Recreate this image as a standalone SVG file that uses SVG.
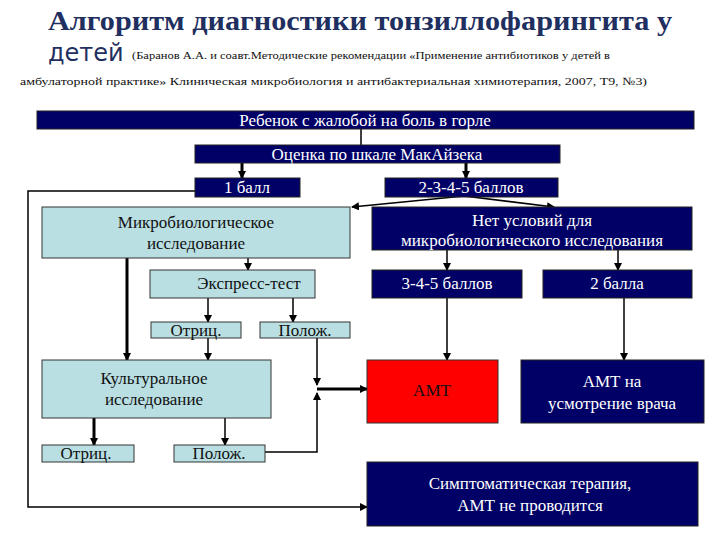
<svg xmlns="http://www.w3.org/2000/svg" width="720" height="540" viewBox="0 0 720 540" font-family="Liberation Serif, DejaVu Serif, serif">
<defs>
<style>
.d{fill:#000066;stroke:#222;stroke-width:1}
.l{fill:#b9dfe3;stroke:#333;stroke-width:1}
.r{fill:#ff0000;stroke:#333;stroke-width:1}
text{font-family:'Liberation Serif','DejaVu Serif',serif;font-size:17px;text-anchor:middle}
.w{fill:#fff}
.k{fill:#111}
.c{fill:none;stroke:#000;stroke-width:1.5}
.t{fill:none;stroke:#000;stroke-width:3}
</style>
<marker id="a" markerWidth="8" markerHeight="8" refX="7" refY="4" orient="auto" markerUnits="userSpaceOnUse"><path d="M0,0L8,4L0,8z" fill="#000"/></marker>
</defs>
<text x="48" y="30" textLength="624" lengthAdjust="spacingAndGlyphs" style="font-size:27px;font-weight:bold;text-anchor:start;fill:#1f2f5f">Алгоритм диагностики тонзиллофарингита у</text>
<text x="48" y="61" style="font-size:24px;font-family:'DejaVu Sans',sans-serif;text-anchor:start;fill:#1f2f5f">детей</text>
<text x="132" y="59" textLength="478" lengthAdjust="spacingAndGlyphs" style="font-size:11px;text-anchor:start" class="k">(Баранов А.А. и соавт.Методические рекомендации «Применение антибиотиков у детей в</text>
<text x="20" y="85" textLength="627" lengthAdjust="spacingAndGlyphs" style="font-size:11px;text-anchor:start" class="k">амбулаторной практике» Клиническая микробиология и антибактериальная химиотерапия, 2007, Т9, №3)</text>
<g id="connectors">
<line class="c" x1="361" y1="129" x2="361" y2="145"/>
<line class="t" x1="242" y1="163" x2="242" y2="178" marker-end="url(#a)"/>
<line class="t" x1="466" y1="163" x2="466" y2="178" marker-end="url(#a)"/>
<polyline class="c" points="195,191 28,191 28,507 367,507" marker-end="url(#a)"/>
<line class="c" x1="464" y1="196" x2="352" y2="207" marker-end="url(#a)"/>
<line class="c" x1="464" y1="196" x2="554" y2="207" marker-end="url(#a)"/>
<line class="c" x1="248" y1="258" x2="248" y2="270" marker-end="url(#a)"/>
<line class="c" x1="447" y1="250" x2="447" y2="270" marker-end="url(#a)"/>
<line class="c" x1="618" y1="250" x2="618" y2="270" marker-end="url(#a)"/>
<line class="c" x1="208" y1="298" x2="208" y2="322" marker-end="url(#a)"/>
<line class="c" x1="293" y1="298" x2="293" y2="322" marker-end="url(#a)"/>
<line class="t" x1="127" y1="258" x2="127" y2="360" marker-end="url(#a)"/>
<line class="c" x1="208" y1="338" x2="208" y2="360" marker-end="url(#a)"/>
<line class="c" x1="317" y1="338" x2="317" y2="385" marker-end="url(#a)"/>
<polyline class="c" points="265,452 317,452 317,393" marker-end="url(#a)"/>
<line class="t" x1="317" y1="389" x2="367" y2="389" marker-end="url(#a)"/>
<line class="c" x1="447" y1="298" x2="447" y2="360" marker-end="url(#a)"/>
<line class="c" x1="624" y1="298" x2="624" y2="360" marker-end="url(#a)"/>
<line class="t" x1="94" y1="418" x2="94" y2="445" marker-end="url(#a)"/>
<line class="c" x1="225" y1="418" x2="225" y2="445" marker-end="url(#a)"/>
</g>
<g id="n1"><rect class="d" x="37" y="111" width="657" height="18"/><text class="w" x="365" y="126">Ребенок с жалобой на боль в горле</text></g>
<g id="n2"><rect class="d" x="195" y="145" width="365" height="18"/><text class="w" x="377" y="160">Оценка по шкале МакАйзека</text></g>
<g id="n3"><rect class="d" x="195" y="178" width="105" height="19"/><text class="w" x="247" y="193">1 балл</text></g>
<g id="n4"><rect class="d" x="385" y="178" width="173" height="19"/><text class="w" x="471" y="193">2-3-4-5 баллов</text></g>
<g id="n5"><rect class="l" x="42" y="207" width="308" height="51"/><text class="k" x="196" y="228">Микробиологическое</text><text class="k" x="196" y="249">исследование</text></g>
<g id="n6"><rect class="d" x="372" y="207" width="320" height="43"/><text class="w" x="532" y="226">Нет условий для</text><text class="w" x="532" y="246">микробиологического исследования</text></g>
<g id="n7"><rect class="l" x="150" y="270" width="165" height="28"/><text class="k" x="249" y="289">Экспресс-тест</text></g>
<g id="n8"><rect class="d" x="372" y="270" width="150" height="28"/><text class="w" x="447" y="289">3-4-5 баллов</text></g>
<g id="n9"><rect class="d" x="543" y="270" width="149" height="28"/><text class="w" x="617" y="289">2 балла</text></g>
<g id="n10"><rect class="l" x="151" y="322" width="90" height="16"/><text class="k" x="196" y="336">Отриц.</text></g>
<g id="n11"><rect class="l" x="260" y="322" width="90" height="16"/><text class="k" x="305" y="336">Полож.</text></g>
<g id="n12"><rect class="l" x="42" y="360" width="229" height="58"/><text class="k" x="154" y="384">Культуральное</text><text class="k" x="154" y="405">исследование</text></g>
<g id="n13"><rect class="r" x="367" y="360" width="131" height="63"/><text class="k" x="432" y="396">АМТ</text></g>
<g id="n14"><rect class="d" x="521" y="360" width="183" height="63"/><text class="w" x="612" y="387">АМТ на</text><text class="w" x="612" y="409">усмотрение  врача</text></g>
<g id="n15"><rect class="l" x="42" y="445" width="92" height="17"/><text class="k" x="86" y="459">Отриц.</text></g>
<g id="n16"><rect class="l" x="174" y="445" width="91" height="17"/><text class="k" x="219" y="459">Полож.</text></g>
<g id="n17"><rect class="d" x="367" y="462" width="331" height="64"/><text class="w" x="530" y="489">Симптоматическая терапия,</text><text class="w" x="530" y="511">АМТ не проводится</text></g>
</svg>
